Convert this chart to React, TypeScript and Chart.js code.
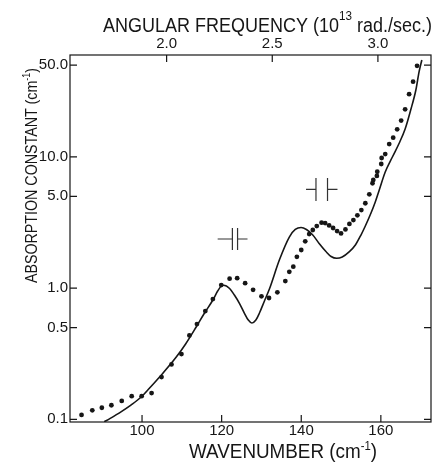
import { useEffect, useRef } from "react";
import { Chart, registerables } from "chart.js";

Chart.register(...registerables);

// ---- Data ----
const dotWavenumber = [
  84.8, 87.5, 89.9, 92.3, 94.9, 97.4, 99.9, 102.4, 104.9, 107.4, 109.9, 111.9, 113.8, 115.9, 117.8,
  119.9, 122.0, 123.9, 125.9, 127.9, 130.0, 131.9, 134.0, 136.0, 137.0, 138.0, 138.9, 140.0, 141.0,
  142.0, 142.9, 143.9, 145.1, 146.0, 147.0, 148.0, 149.0, 150.0, 151.1, 152.1, 153.1, 154.1, 155.1,
  156.1, 157.1, 157.9, 158.1, 159.0, 159.1, 160.1, 160.2, 161.1, 162.1, 163.1, 164.1, 165.1, 166.1,
  167.1, 168.1, 169.1,
];
const dotAbsorption = [
  0.108, 0.117, 0.1225, 0.128, 0.138, 0.15, 0.15, 0.1585, 0.21, 0.262, 0.314, 0.436, 0.532, 0.668,
  0.825, 1.055, 1.18, 1.19, 1.09, 0.97, 0.865, 0.84, 0.928, 1.13, 1.33, 1.455, 1.73, 1.95, 2.27, 2.58,
  2.77, 2.97, 3.15, 3.13, 3.0, 2.87, 2.72, 2.61, 2.8, 3.08, 3.3, 3.585, 3.93, 4.43, 5.18, 6.29, 6.66,
  7.15, 7.7, 8.82, 9.8, 10.5, 12.5, 14.0, 16.2, 18.9, 23.0, 30.0, 37.4, 49.4,
];

const curveWavenumber = [
  90.5, 91.9, 94.8, 97.2, 99.85, 101.9, 104.4, 108.6, 110.95, 113.6, 115.7, 117.8, 119.0, 119.9, 120.5,
  122.0, 123.2, 124.5, 125.7, 126.7, 127.6, 128.6, 129.5, 130.75, 132.0, 134.5, 137.0, 138.5, 139.95,
  141.3, 142.9, 144.5, 146.2, 147.5, 148.9, 150.3, 152.1, 153.6, 155.0, 156.1, 157.5, 158.6, 159.6,
  161.1, 162.9, 164.6, 166.1, 167.5, 168.8, 169.6, 170.3,
];
const curveAbsorption = [
  0.0958, 0.1013, 0.1146, 0.1284, 0.1485, 0.173, 0.21, 0.298, 0.375, 0.505, 0.6455, 0.811, 0.9495,
  1.037, 1.05, 0.992, 0.885, 0.7625, 0.6455, 0.5706, 0.5414, 0.5706, 0.6455, 0.797, 0.9835, 1.636,
  2.449, 2.795, 2.894, 2.795, 2.537, 2.185, 1.899, 1.74, 1.686, 1.725, 1.893, 2.129, 2.537, 2.972,
  3.714, 4.528, 5.589, 7.666, 9.975, 12.69, 16.3, 22.76, 32.32, 44.35, 54.72,
];

// Resolution (slit width) markers  -||-
const resStubLeft = [119.0, 141.2];
const resBarLeft = [122.7, 143.7];
const resBarRight = [124.0, 146.6];
const resStubRight = [126.5, 149.1];
const resLevel = [2.365, 5.658];
const resTop = [2.869, 6.9];
const resBottom = [1.95, 4.607];

// Axes
const bottomTicks = [100, 120, 140, 160];
const topTicks = [2.0, 2.5, 3.0];
const leftTicks = [0.1, 0.5, 1, 5, 10, 50];
const X_MIN = 81.9;
const X_MAX = 172.6;
const Y_MIN = 0.0954;
const Y_MAX = 59.7;
const OMEGA_PER_WAVENUMBER = 0.018837; // 2*pi*c in 10^13 rad/sec per cm^-1

const INK = "#161616";
const TICK_FONT = { family: '"Liberation Sans", Arial, sans-serif', size: 15 };
const TITLE_FAMILY = '"Liberation Sans", Arial, sans-serif';

type Part = { text: string; sup?: boolean };

function drawRich(
  ctx: CanvasRenderingContext2D,
  parts: Part[],
  cx: number,
  cy: number,
  size: number,
  supSize: number,
  supRaise: number,
  targetWidth: number,
  rotate: boolean
) {
  const mainFont = `${size}px ${TITLE_FAMILY}`;
  const supFont = `${supSize}px ${TITLE_FAMILY}`;
  let total = 0;
  const widths = parts.map((p) => {
    ctx.font = p.sup ? supFont : mainFont;
    const w = ctx.measureText(p.text).width;
    total += w;
    return w;
  });
  const sx = targetWidth / total;
  ctx.save();
  ctx.translate(cx, cy);
  if (rotate) ctx.rotate(-Math.PI / 2);
  ctx.scale(sx, 1);
  ctx.fillStyle = INK;
  ctx.textAlign = "left";
  ctx.textBaseline = "alphabetic";
  let x = -total / 2;
  parts.forEach((p, i) => {
    ctx.font = p.sup ? supFont : mainFont;
    ctx.fillText(p.text, x, p.sup ? -supRaise : 0);
    x += widths[i];
  });
  ctx.restore();
}

const framePlugin = {
  id: "frameAndTitles",
  afterDraw(chart: any) {
    const { ctx, chartArea: a, scales } = chart;
    ctx.save();
    ctx.strokeStyle = INK;
    ctx.lineWidth = 1.2;
    ctx.strokeRect(a.left, a.top, a.right - a.left, a.bottom - a.top);
    const T = 7;
    ctx.beginPath();
    for (const v of bottomTicks) {
      const x = scales.x.getPixelForValue(v);
      ctx.moveTo(x, a.bottom);
      ctx.lineTo(x, a.bottom - T);
    }
    for (const v of topTicks) {
      const x = scales.x2.getPixelForValue(v);
      ctx.moveTo(x, a.top);
      ctx.lineTo(x, a.top + T);
    }
    for (const v of leftTicks) {
      const y = scales.y.getPixelForValue(v);
      ctx.moveTo(a.left, y);
      ctx.lineTo(a.left + T, y);
      ctx.moveTo(a.right, y);
      ctx.lineTo(a.right - T, y);
    }
    ctx.stroke();
    ctx.restore();

    drawRich(
      ctx,
      [{ text: "ANGULAR FREQUENCY (10" }, { text: "13", sup: true }, { text: " rad./sec.)" }],
      267.5,
      31.5,
      20,
      13,
      12,
      329,
      false
    );
    drawRich(
      ctx,
      [{ text: "WAVENUMBER (cm" }, { text: "-1", sup: true }, { text: ")" }],
      283,
      458,
      20,
      12,
      8,
      188,
      false
    );
    drawRich(
      ctx,
      [{ text: "ABSORPTION CONSTANT (cm" }, { text: "-1", sup: true }, { text: ")" }],
      37.3,
      175.5,
      16,
      10,
      7,
      215,
      true
    );
  },
};

function buildResolutionData() {
  const pts: { x: number; y: number | null }[] = [];
  for (let i = 0; i < resLevel.length; i++) {
    pts.push({ x: resStubLeft[i], y: resLevel[i] }, { x: resBarLeft[i], y: resLevel[i] });
    pts.push({ x: resBarLeft[i], y: null });
    pts.push({ x: resBarLeft[i], y: resBottom[i] }, { x: resBarLeft[i], y: resTop[i] });
    pts.push({ x: resBarLeft[i], y: null });
    pts.push({ x: resBarRight[i], y: resBottom[i] }, { x: resBarRight[i], y: resTop[i] });
    pts.push({ x: resBarRight[i], y: null });
    pts.push({ x: resBarRight[i], y: resLevel[i] }, { x: resStubRight[i], y: resLevel[i] });
    pts.push({ x: resStubRight[i], y: null });
  }
  return pts;
}

export default function App() {
  const ref = useRef<HTMLCanvasElement>(null);

  useEffect(() => {
    if (!ref.current) return;
    const hidden = { display: false, drawTicks: false };
    const chart = new Chart(ref.current, {
      type: "line",
      data: {
        datasets: [
          {
            label: "Measured",
            data: dotWavenumber.map((x, i) => ({ x, y: dotAbsorption[i] })),
            showLine: false,
            pointRadius: 2.4,
            pointBackgroundColor: INK,
            pointBorderWidth: 0,
            borderColor: INK,
          },
          {
            label: "Calculated",
            data: curveWavenumber.map((x, i) => ({ x, y: curveAbsorption[i] })),
            borderColor: INK,
            borderWidth: 1.6,
            pointRadius: 0,
            cubicInterpolationMode: "monotone",
            fill: false,
          },
          {
            label: "Resolution",
            data: buildResolutionData(),
            borderColor: "#333",
            borderWidth: 1.2,
            pointRadius: 0,
            spanGaps: false,
            tension: 0,
            fill: false,
          },
        ],
      },
      options: {
        animation: false,
        responsive: false,
        events: [],
        layout: { padding: { left: 0, right: 3, top: 0, bottom: 0 } },
        plugins: { legend: { display: false }, tooltip: { enabled: false }, title: { display: false } },
        scales: {
          x: {
            type: "linear",
            position: "bottom",
            min: X_MIN,
            max: X_MAX,
            grid: hidden,
            border: { display: false },
            afterBuildTicks: (s: any) => {
              s.ticks = bottomTicks.map((v) => ({ value: v }));
            },
            afterFit: (s: any) => {
              s.height = 40;
            },
            ticks: {
              autoSkip: false,
              maxRotation: 0,
              padding: 0,
              color: INK,
              font: TICK_FONT,
              callback: (v: any) => String(v),
            },
          },
          x2: {
            type: "linear",
            position: "top",
            min: X_MIN * OMEGA_PER_WAVENUMBER,
            max: X_MAX * OMEGA_PER_WAVENUMBER,
            grid: hidden,
            border: { display: false },
            afterBuildTicks: (s: any) => {
              s.ticks = topTicks.map((v) => ({ value: v }));
            },
            afterFit: (s: any) => {
              s.height = 55;
            },
            ticks: {
              autoSkip: false,
              maxRotation: 0,
              padding: 2,
              color: INK,
              font: TICK_FONT,
              callback: (v: any) => Number(v).toFixed(1),
            },
          },
          y: {
            type: "logarithmic",
            position: "left",
            min: Y_MIN,
            max: Y_MAX,
            grid: hidden,
            border: { display: false },
            afterBuildTicks: (s: any) => {
              s.ticks = leftTicks.map((v) => ({ value: v }));
            },
            afterFit: (s: any) => {
              s.width = 70;
            },
            ticks: {
              autoSkip: false,
              padding: 2,
              color: INK,
              font: TICK_FONT,
              callback: (v: any) => Number(v).toFixed(1),
            },
          },
        },
      },
      plugins: [framePlugin],
    } as any);
    return () => chart.destroy();
  }, []);

  return (
    <div style={{ position: "absolute", left: 0, top: 0, width: 435, height: 462, background: "#fff" }}>
      <canvas ref={ref} width={435} height={462} style={{ display: "block", width: 435, height: 462 }} />
    </div>
  );
}
